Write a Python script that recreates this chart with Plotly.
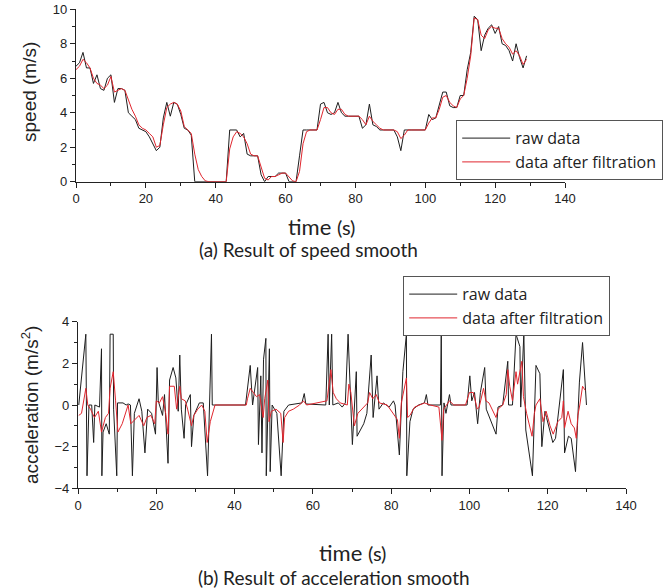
import plotly.graph_objects as go
from plotly.subplots import make_subplots

# speed, sampled every second
time_s = list(range(130))
speed_raw = [6.7, 6.9, 7.5, 6.6, 6.6, 5.7, 6.2, 5.4, 5.3, 6.0,
             6.2, 4.6, 5.4, 5.4, 5.3, 4.0, 3.8, 3.6, 3.1, 3.0,
             2.9, 2.6, 2.2, 1.8, 2.0, 3.7, 4.6, 3.8, 4.6, 4.5,
             3.9, 3.1, 3.0, 2.7, 0.0, 0.0, 0.0, 0.0, 0.0, 0.0,
             0.0, 0.0, 0.0, 0.0, 3.0, 3.0, 3.0, 2.6, 2.8, 1.6,
             1.5, 1.5, 1.5, 0.4, 0.0, 0.3, 0.3, 0.3, 0.5, 0.5,
             0.5, 0.0, 0.0, 0.0, 1.5, 3.0, 3.0, 3.0, 3.0, 3.0,
             4.5, 4.6, 4.0, 3.9, 4.0, 4.6, 4.0, 3.8, 3.8, 3.8,
             3.8, 3.8, 3.1, 3.3, 4.5, 3.3, 3.2, 3.0, 3.0, 3.0,
             3.0, 3.0, 2.6, 1.8, 3.0, 3.0, 3.0, 3.0, 3.0, 3.0,
             3.0, 3.9, 3.6, 3.7, 4.5, 5.2, 5.2, 4.4, 4.3, 4.3,
             5.0, 5.0, 6.5, 7.5, 9.6, 9.4, 7.6, 8.5, 8.9, 9.1,
             8.6, 9.0, 8.0, 7.9, 7.6, 7.0, 8.0, 7.2, 6.6, 7.3]
speed_filt = [6.5, 6.7, 7.1, 6.9, 6.6, 6.0, 5.7, 5.6, 5.4, 5.6,
              6.1, 5.2, 5.3, 5.4, 5.3, 4.7, 4.2, 3.8, 3.3, 3.1,
              3.0, 2.8, 2.6, 2.0, 2.1, 3.3, 4.3, 4.5, 4.6, 4.5,
              4.1, 3.2, 3.0, 2.8, 1.6, 0.7, 0.3, 0.05, 0.0, 0.0,
              0.0, 0.0, 0.0, 0.0, 1.9, 2.6, 2.9, 2.8, 2.6, 2.2,
              1.6, 1.5, 1.5, 0.8, 0.2, 0.1, 0.3, 0.3, 0.4, 0.5,
              0.5, 0.3, 0.05, 0.0, 0.6, 2.2, 2.9, 3.0, 3.0, 3.0,
              3.6, 4.3, 4.3, 4.0, 3.9, 4.2, 4.2, 3.9, 3.8, 3.8,
              3.8, 3.8, 3.6, 3.3, 3.8, 3.5, 3.3, 3.1, 3.0, 3.0,
              3.0, 3.0, 2.9, 2.5, 2.7, 3.0, 3.0, 3.0, 3.0, 3.0,
              3.0, 3.4, 3.7, 3.7, 4.2, 4.9, 5.0, 4.6, 4.4, 4.3,
              4.8, 5.0, 6.0, 7.3, 9.5, 9.4, 8.5, 8.3, 8.8, 9.0,
              8.9, 8.9, 8.3, 8.0, 7.8, 7.4, 7.6, 7.3, 6.8, 7.1]

# acceleration, raw (irregular sample times)
acc_raw_t = [0.2, 2.0, 2.3, 2.8, 3.5, 4.0, 4.3, 5.5, 6.0, 6.1,
             6.4, 7.2, 8.0, 8.2, 9.0, 9.1, 9.9, 10.1, 11.5, 12.3,
             12.8, 13.4, 13.9, 14.4, 15.6, 16.3, 17.1, 17.8, 18.8, 19.8,
             20.2, 20.5, 21.6, 22.1, 23.0, 23.4, 24.3, 25.0, 25.6, 26.0,
             26.4, 27.1, 27.5, 28.2, 28.7, 29.0, 29.6, 31.0, 32.0, 33.1,
             34.1, 34.3, 42.8, 44.0, 44.6, 45.9, 46.1, 46.7, 47.0, 47.4,
             48.0, 48.1, 48.9, 49.1, 49.6, 50.8, 51.9, 52.6, 53.8, 57.2,
             57.8, 58.2, 63.3, 63.9, 64.2, 64.8, 65.1, 66.5, 67.5, 68.3,
             69.0, 70.1, 71.1, 71.3, 73.0, 73.8, 74.9, 75.4, 76.4, 76.9,
             78.0, 79.5, 80.6, 81.0, 82.1, 83.0, 83.9, 84.0, 84.8, 85.6,
             87.0, 88.5, 89.0, 89.4, 92.6, 92.8, 93.0, 93.5, 94.0, 94.9,
             95.3, 99.4, 100.1, 100.6, 101.3, 102.1, 102.8, 103.9, 104.3, 106.8,
             107.3, 108.5, 109.8, 110.0, 111.0, 111.9, 112.9, 113.1, 113.9, 114.4,
             115.0, 116.1, 117.0, 118.0, 118.5, 119.3, 119.7, 121.3, 122.0, 124.0,
             124.3, 125.3, 126.0, 127.1, 127.6, 128.1, 128.9, 129.9]
acc_raw = [0.0, 3.4, -3.4, 0.0, 0.0, -1.8, 0.0, -0.1, 2.7, -3.4,
           -1.3, -0.9, -1.4, 3.4, 3.4, -0.2, -3.4, 0.1, 0.1, 0.0,
           0.05, 0.0, -3.4, -0.4, 0.3, -0.3, -2.3, -0.2, -0.4, -1.4,
           1.8, 0.2, -0.5, 0.5, -2.8, 1.2, 1.8, 1.3, -0.3, 2.4,
           -0.2, -1.6, 0.0, 0.3, 0.5, -2.0, -0.5, 0.1, 0.1, -3.4,
           3.4, 0.0, 0.0, 1.9, 0.0, 1.8, -1.9, 1.4, -2.3, 2.2,
           3.2, -3.4, 2.7, -3.2, 0.0, -0.4, -3.4, -0.3, 0.0, 0.1,
           0.55, 0.05, 0.0, 3.4, 0.0, 3.4, 0.0, 0.1, -0.1, 0.1,
           3.4, -1.9, 1.6, -1.5, -0.9, -0.4, 2.4, -0.6, 1.4, -0.2,
           0.1, -0.1, 0.2, 0.0, -2.4, 1.6, 3.4, -3.4, -0.8, -0.2,
           0.0, 0.1, 0.5, 0.0, 0.0, 3.4, -3.4, 0.1, -0.4, 0.5,
           0.0, 0.0, 1.4, 0.2, 0.6, -0.9, 0.6, 1.8, -0.2, -1.4,
           -0.1, 0.0, 2.1, 0.0, 0.0, 3.4, 2.8, -0.1, 3.4, -1.2,
           -1.9, -3.4, 1.9, 1.5, -2.0, -0.3, -0.6, -1.8, -1.6, 1.7,
           -2.3, -1.5, -1.6, -3.2, -1.0, 1.1, 3.0, 0.0]

# acceleration after filtration
acc_filt_t = [0.2, 0.9, 2.0, 2.5, 3.2, 4.2, 5.2, 6.0, 7.0, 7.8,
              8.2, 9.0, 9.6, 10.2, 11.3, 12.2, 12.8, 13.5, 14.5, 15.6,
              16.8, 17.6, 18.6, 19.6, 20.0, 20.8, 21.6, 22.4, 23.0, 23.4,
              24.6, 25.2, 26.0, 26.4, 27.4, 28.0, 29.0, 29.6, 30.6, 31.6,
              32.4, 33.0, 33.8, 35.0, 43.0, 43.3, 44.0, 44.8, 45.6, 46.4,
              47.3, 47.7, 48.5, 48.8, 49.4, 50.6, 51.8, 52.4, 52.8, 53.8,
              55.0, 56.6, 57.6, 58.4, 63.6, 64.6, 65.2, 66.0, 67.0, 68.8,
              69.2, 69.7, 70.2, 70.6, 71.5, 72.6, 74.0, 74.5, 75.3, 76.2,
              77.0, 79.0, 81.6, 82.1, 82.6, 83.9, 84.2, 84.8, 86.0, 88.5,
              90.0, 92.2, 93.0, 93.4, 94.2, 94.9, 96.0, 99.0, 100.0, 101.0,
              102.0, 102.5, 103.6, 104.2, 105.0, 106.8, 107.3, 108.5, 109.4, 109.8,
              110.3, 111.0, 111.9, 112.3, 113.4, 113.8, 114.6, 115.3, 116.0, 116.6,
              117.0, 118.0, 118.8, 119.6, 120.6, 121.4, 121.8, 122.6, 123.6, 124.0,
              124.3, 125.2, 126.0, 126.8, 127.3, 127.7, 128.2, 128.9, 129.6]
acc_filt = [-0.5, -0.4, 0.8, 0.0, -0.2, -0.6, -0.3, -1.3, -0.6, -0.4,
            0.8, 1.6, 0.2, -1.3, -0.9, -0.4, 0.0, -0.9, -0.7, -0.5,
            -1.0, -0.6, -0.5, -0.9, 0.2, 0.1, 0.4, -0.4, -1.4, 0.9,
            0.9, -0.2, 0.9, 0.3, 0.2, -0.2, -1.0, -0.5, -0.2, 0.0,
            -0.3, -1.8, -0.8, 0.0, 0.0, 0.3, 0.8, 0.6, 0.4, 0.5,
            -0.6, 0.3, 1.2, -0.8, -0.3, -0.2, -0.4, -1.8, -0.6, -0.3,
            -0.2, 0.0, 0.2, 0.0, 0.2, 1.7, 0.6, 0.3, 0.1, 0.0,
            1.0, 0.6, -0.5, -1.0, -0.4, -0.2, 0.1, 0.6, 0.3, 0.5,
            0.1, 0.0, -0.7, -1.6, 0.1, 1.3, -0.6, -0.5, -0.1, 0.1,
            0.0, -0.1, -1.7, -0.2, 0.0, 0.2, 0.0, 0.0, 0.6, 0.6,
            -0.2, -0.1, 0.8, 0.2, 0.1, -0.6, -0.2, 0.0, 0.5, 1.7,
            0.9, 0.2, 1.6, 1.0, 2.1, 0.4, -0.4, -1.0, -1.5, -0.4,
            0.0, 0.3, -0.8, -0.3, -1.0, -1.4, -1.2, -0.8, -0.6, 0.2,
            -1.1, -0.3, -0.9, -1.1, -1.6, -0.5, 0.0, 0.9, 0.7]

BLACK = "#1e1e1e"
RED = "#e0262e"
W, H = 664, 588


def px_x(p):
    return p / W


def px_y(p):
    return 1 - p / H


fig = make_subplots(rows=2, cols=1)

fig.add_trace(go.Scatter(x=time_s, y=speed_raw, mode="lines", name="raw data",
                         line=dict(color=BLACK, width=1), legend="legend"), row=1, col=1)
fig.add_trace(go.Scatter(x=time_s, y=speed_filt, mode="lines", name="data after filtration",
                         line=dict(color=RED, width=1), legend="legend"), row=1, col=1)

fig.add_hline(y=0, line=dict(color="#333333", width=1, dash="dash"), row=2, col=1)
fig.add_trace(go.Scatter(x=acc_raw_t, y=acc_raw, mode="lines", name="raw data",
                         line=dict(color=BLACK, width=1), legend="legend2"), row=2, col=1)
fig.add_trace(go.Scatter(x=acc_filt_t, y=acc_filt, mode="lines", name="data after filtration",
                         line=dict(color=RED, width=1), legend="legend2"), row=2, col=1)

axis_common = dict(showline=True, linecolor="#222222", linewidth=1.3, ticks="outside",
                   ticklen=5, tickwidth=1.3, tickcolor="#222222", showgrid=False, zeroline=False,
                   automargin=False,
                   tickfont=dict(family="Liberation Sans, Arial", size=13, color="#222222"))

fig.update_xaxes(axis_common, range=[0, 140], dtick=20,
                 minor=dict(ticks="outside", dtick=10, ticklen=3, tickcolor="#222222"))
fig.update_xaxes(domain=[px_x(76), px_x(565)], row=1, col=1)
fig.update_xaxes(domain=[px_x(78), px_x(626)], row=2, col=1)

fig.update_yaxes(axis_common)
fig.update_yaxes(domain=[px_y(181.7), px_y(9.3)], range=[0, 10], dtick=2,
                 minor=dict(ticks="outside", dtick=1, ticklen=3, tickcolor="#222222"), row=1, col=1)
fig.update_yaxes(domain=[px_y(488.3), px_y(321.7)], range=[-4, 4], dtick=2,
                 minor=dict(ticks="outside", dtick=1, ticklen=3, tickcolor="#222222"), row=2, col=1)

legend_common = dict(bgcolor="white", bordercolor="#555555", borderwidth=1.2,
                     font=dict(family="Open Sans", size=16, color="#222222"),
                     xanchor="left", yanchor="top", itemwidth=48, tracegroupgap=0)
fig.update_layout(
    width=W, height=H,
    margin=dict(l=0, r=0, t=0, b=0),
    plot_bgcolor="white", paper_bgcolor="white",
    showlegend=True,
    legend=dict(legend_common, x=px_x(456), y=px_y(120)),
    legend2=dict(legend_common, x=px_x(403), y=px_y(276)),
)

cap_font = dict(family="Lato", size=19, color="#222222")
title_font = dict(family="Lato", size=22, color="#222222")
ylab_font = dict(family="Liberation Sans, Arial", size=19, color="#222222")
notes = [
    ("time <span style='font-size:20px'>(s)</span>", px_x(321), px_y(226), title_font, 0),
    ("(a) Result of speed smooth", px_x(308), px_y(250), cap_font, 0),
    ("time <span style='font-size:20px'>(s)</span>", px_x(352), px_y(552), title_font, 0),
    ("(b) Result of acceleration smooth", px_x(334), px_y(577), cap_font, 0),
    ("speed (m/s)", px_x(30), px_y(92), ylab_font, -90),
    ("acceleration (m/s<sup>2</sup>)", px_x(30), px_y(405), ylab_font, -90),
]
for text, x, y, font, angle in notes:
    fig.add_annotation(text=text, x=x, y=y, xref="paper", yref="paper", showarrow=False,
                       font=font, textangle=angle, xanchor="center", yanchor="middle")

# drop the default 8px body margin so the figure fills the window exactly
fig.write_html("out.html", config={"displayModeBar": False},
               post_script="document.body.style.margin = '0';")
